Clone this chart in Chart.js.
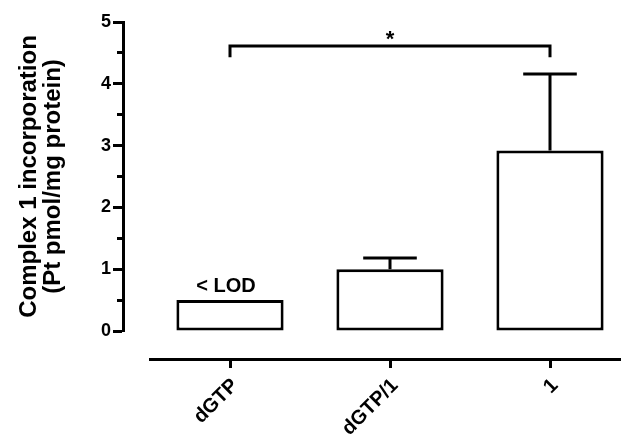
<!DOCTYPE html>
<html>
<head>
<meta charset="utf-8">
<script src="https://cdn.jsdelivr.net/npm/chart.js@4"></script>
<style>
    html, body { margin: 0; padding: 0; background: #fff; overflow: hidden; }
    #wrap { width: 621px; height: 439px; overflow: hidden; }
</style>
</head>
<body>
<div id="wrap"><canvas id="chart" width="640" height="439"></canvas></div>
<script>
const categories = ['dGTP', 'dGTP/1', '1'];
const means = [0.5, 1.0, 2.92];
const errors = [0, 0.18, 1.24];
const bar_notes = ['< LOD', '', ''];
// significance bracket: [from index, to index, level, leg bottom, mark]
const brackets = [[0, 2, 4.61, 4.43, '*']];

const font_family = '"Liberation Sans", Arial, sans-serif';

// one-sided SEM whiskers
const error_bars = {
    id: 'error_bars',
    afterDatasetsDraw(chart) {
        const ctx = chart.ctx;
        const y = chart.scales.y;
        const meta = chart.getDatasetMeta(0);
        ctx.save();
        ctx.strokeStyle = '#000';
        ctx.lineWidth = 3;
        meta.data.forEach((bar, i) => {
            if (!errors[i]) return;
            const top = y.getPixelForValue(means[i] + errors[i]);
            const half = bar.width / 4;
            ctx.beginPath();
            ctx.moveTo(bar.x, bar.y);
            ctx.lineTo(bar.x, top);
            ctx.moveTo(bar.x - half, top);
            ctx.lineTo(bar.x + half, top);
            ctx.stroke();
        });

        ctx.fillStyle = '#000';
        ctx.textAlign = 'center';
        ctx.textBaseline = 'bottom';
        ctx.font = 'bold 20px ' + font_family;
        meta.data.forEach((bar, i) => {
            if (bar_notes[i]) ctx.fillText(bar_notes[i], bar.x - 4, bar.y - 4);
        });

        brackets.forEach(b => {
            const x1 = meta.data[b[0]].x;
            const x2 = meta.data[b[1]].x;
            const yl = y.getPixelForValue(b[2]);
            const yb = y.getPixelForValue(b[3]);
            ctx.beginPath();
            ctx.moveTo(x1, yb);
            ctx.lineTo(x1, yl);
            ctx.lineTo(x2, yl);
            ctx.lineTo(x2, yb);
            ctx.stroke();
            ctx.font = 'bold 22px ' + font_family;
            ctx.fillText(b[4], (x1 + x2) / 2, yl + 5);
        });
        ctx.restore();
    }
};

new Chart(document.getElementById('chart'), {
    type: 'bar',
    data: {
        labels: categories,
        datasets: [{
            data: means,
            backgroundColor: '#fff',
            borderColor: '#000',
            borderWidth: 3,
            borderSkipped: false,
            barPercentage: 0.67,
            categoryPercentage: 1
        }]
    },
    options: {
        responsive: false,
        animation: false,
        layout: { padding: { top: 22, right: 10, bottom: 0, left: 0 } },
        plugins: {
            legend: { display: false },
            tooltip: { enabled: false }
        },
        scales: {
            x: {
                weight: 1,
                offset: true,
                grid: { display: true, offset: false, drawOnChartArea: false, tickLength: 9, tickWidth: 3, tickColor: '#000' },
                border: { display: true, color: '#000', width: 3 },
                ticks: {
                    color: '#000',
                    font: { family: font_family, size: 20, weight: 'bold' },
                    maxRotation: 45,
                    minRotation: 45,
                    padding: 6,
                    labelOffset: 5
                },
                afterFit: s => { s.height = 80; }
            },
            x2: {
                type: 'linear',
                axis: 'x',
                position: 'bottom',
                weight: 0,
                grid: { display: false },
                border: { display: false },
                ticks: { display: false },
                afterFit: s => { s.height = 28; }
            },
            y: {
                weight: 1,
                min: 0,
                max: 5,
                grid: {
                    display: true,
                    drawOnChartArea: false,
                    tickLength: 10,
                    tickWidth: 3,
                    tickColor: '#000',
                    // minor ticks (halves) are shorter, kept against the axis line
                    tickBorderDash: c => (c.tick && c.tick.value % 1 !== 0 ? [0, 4, 8, 20] : [])
                },
                border: { display: true, color: '#000', width: 3 },
                ticks: {
                    stepSize: 0.5,
                    color: '#000',
                    padding: 2,
                    font: { family: font_family, size: 18, weight: 'bold' },
                    callback: v => (v % 1 === 0 ? v : '')
                },
                title: {
                    display: true,
                    text: ['Complex 1 incorporation', '(Pt pmol/mg protein)'],
                    color: '#000',
                    font: { family: font_family, size: 24, weight: 'bold', lineHeight: 1.0 },
                    padding: { top: 17, bottom: 0 }
                },
                afterFit: s => { s.width = 123; }
            },
            y2: {
                type: 'linear',
                axis: 'y',
                position: 'left',
                weight: 0,
                grid: { display: false },
                border: { display: false },
                ticks: { display: false },
                afterFit: s => { s.width = 27; }
            }
        }
    },
    plugins: [error_bars]
});
</script>
</body>
</html>
